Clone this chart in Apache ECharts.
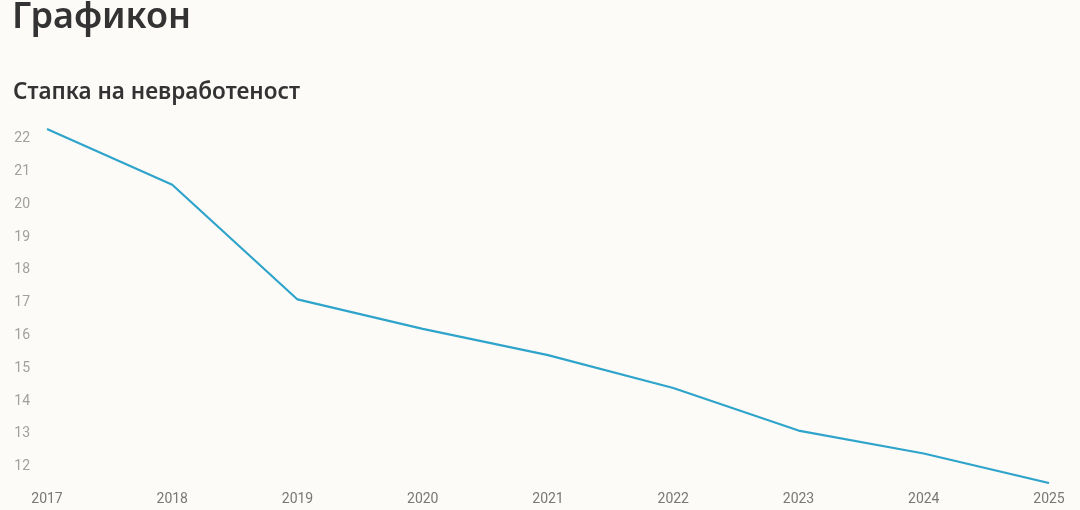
<!DOCTYPE html>
<html>
<head>
<meta charset="utf-8">
<script src="https://cdn.jsdelivr.net/npm/echarts@6/dist/echarts.min.js"></script>
<style>
html,body{margin:0;padding:0;background:#fdfbf8;}
#chart{width:1080px;height:510px;}
</style>
</head>
<body>
<div id="chart"></div>
<script>
const titleText = 'Графикон';
const subtitleText = 'Стапка на невработеност';
const years = ['2017','2018','2019','2020','2021','2022','2023','2024','2025'];
const unemployment = [22.3, 20.6, 17.1, 16.2, 15.4, 14.4, 13.1, 12.4, 11.5];

const chart = echarts.init(document.getElementById('chart'), null, {renderer:'canvas'});
chart.setOption({
  backgroundColor: '#fdfbf8',
  animation: false,
  graphic: [
    {type:'text', left: 12, top: 0, style:{text: titleText, font: '600 36px "Noto Sans", sans-serif', fill:'#333333'}},
    {type:'text', left: 13, top: 81, style:{text: subtitleText, font: '600 22.5px "Noto Sans", sans-serif', fill:'#333333'}}
  ],
  grid: {left: 47, right: 31, top: 129, bottom: 27, containLabel: false},
  xAxis: {
    type: 'category',
    data: years,
    boundaryGap: false,
    axisLine: {show: false},
    axisTick: {show: false},
    axisLabel: {color: '#777777', fontSize: 14, fontFamily: 'Roboto', margin: 9}
  },
  yAxis: {
    type: 'value',
    min: 11.5,
    max: 22.3,
    splitNumber: 10,
    axisLine: {show: false},
    axisTick: {show: false},
    splitLine: {show: false},
    axisLabel: {
      color: '#a0a0a0', fontSize: 14, fontFamily: 'Roboto', margin: 17,
      formatter: function(v){ return Math.abs(v - Math.round(v)) < 1e-6 ? String(Math.round(v)) : ''; }
    }
  },
  series: [{
    type: 'line',
    data: unemployment,
    symbol: 'none',
    lineStyle: {color: '#2fa4cb', width: 2.2}
  }]
});
</script>
</body>
</html>
